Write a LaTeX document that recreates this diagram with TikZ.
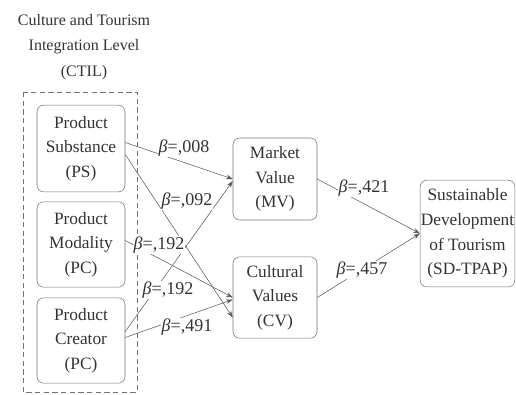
\documentclass[tikz,border=0pt]{standalone}
\usepackage{fontspec}
\setmainfont{Liberation Serif}
\usepackage{tikz}
\usetikzlibrary{arrows.meta}
\usetikzlibrary{calc}
\usetikzlibrary{positioning}

\begin{document}
\begin{tikzpicture}[x=0.75pt, y=-0.75pt,
    box/.style={draw=black!55, rounded corners=5pt, align=center, inner sep=0pt, text=black!80, font=\fontsize{13}{18.5}\selectfont},
    beta/.style={fill=white, inner sep=0.6pt, text=black!80, font=\fontsize{13.5}{15}\selectfont},
    link/.style={draw=black!65, -{Stealth[length=5pt, width=3.5pt]}}]
    \useasboundingbox (0,0) rectangle (516,394);
    \node[align=center, text=black!80, font=\fontsize{12}{19}\selectfont] (ctil) at (84,47) {Culture and Tourism\\Integration Level\\(CTIL)};
    \draw[black!55, dash pattern=on 4pt off 2.5pt] (23,92) rectangle (137,392);

    \node[box, minimum width=66pt, minimum height=65pt] (ps) at (81,148.5) {Product\\Substance\\(PS)};
    \node[box, minimum width=66pt, minimum height=64pt] (pm) at (81,244.5) {Product\\Modality\\(PC)};
    \node[box, minimum width=66pt, minimum height=64pt] (pc) at (81,340.5) {Product\\Creator\\(PC)};
    \node[box, minimum width=63pt, minimum height=61.5pt] (mv) at (275,179) {Market\\Value\\(MV)};
    \node[box, minimum width=63pt, minimum height=61pt] (cv) at (275,297.5) {Cultural\\Values\\(CV)};
    \node[box, minimum width=71pt, minimum height=80pt] (sd) at (467.5,233.5) {Sustainable\\Development\\of Tourism\\(SD-TPAP)};

    \draw[link] ($(ps.east)+(0,-6)$) -- (mv.west);
    \draw[link] ($(ps.east)+(0,6)$) -- ($(cv.west)+(0,20)$);
    \draw[link] ($(pm.east)+(0,-4)$) -- (cv.west);
    \draw[link] ($(pc.east)+(0,-9)$) -- ($(mv.west)+(0,2)$);
    \draw[link] ($(pc.east)+(0,-3)$) -- ($(cv.west)+(0,2)$);
    \draw[link] (mv.east) -- (sd.west);
    \draw[link] (cv.east) -- (sd.west);

    \node[beta] (b1) at (184,148) {\textit{β}=,008};
    \node[beta] (b2) at (187,201) {\textit{β}=,092};
    \node[beta] (b3) at (159,245) {\textit{β}=,192};
    \node[beta] (b4) at (168,290) {\textit{β}=,192};
    \node[beta] (b5) at (187,327) {\textit{β}=,491};
    \node[beta] (b6) at (364,188) {\textit{β}=,421};
    \node[beta] (b7) at (362,270) {\textit{β}=,457};
\end{tikzpicture}
\end{document}
